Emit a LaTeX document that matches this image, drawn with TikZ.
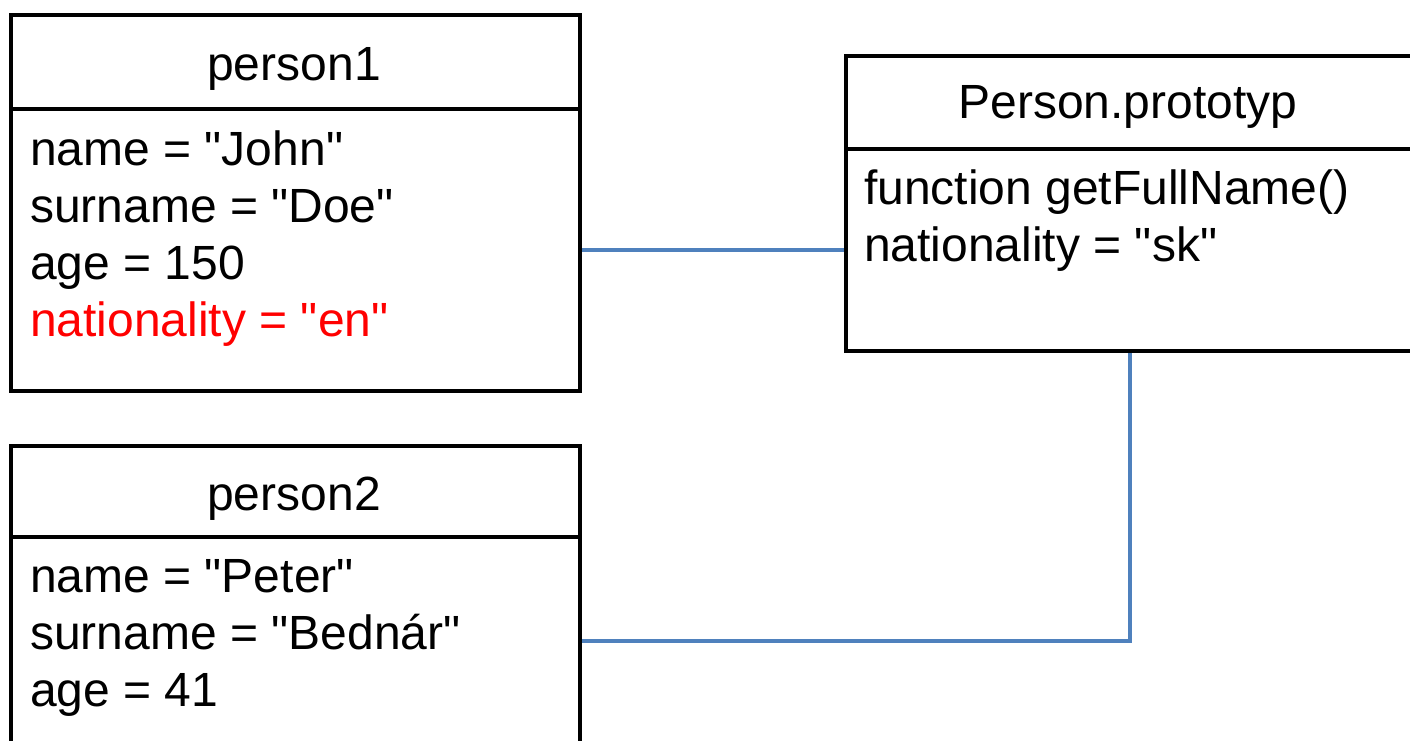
\documentclass[tikz,border=0pt]{standalone}
\usepackage{fontspec}
\setmainfont{Liberation Sans}
\definecolor{linkblue}{HTML}{4F81BD}
\definecolor{attrred}{HTML}{FF0000}
% straight double quote
\newcommand{\dq}{\textquotedbl}
\begin{document}
\begin{tikzpicture}[x=1pt,y=-1pt,
  boxpart/.style={draw=black,line width=4pt,rectangle,inner sep=0pt,anchor=north west},
  title/.style={anchor=base,inner sep=0pt,font=\fontsize{48}{57}\selectfont},
  attr/.style={anchor=base west,inner sep=0pt,font=\fontsize{48}{57}\selectfont},
  link/.style={draw=linkblue,line width=4pt}]
\useasboundingbox (0,0) rectangle (1410,740);

% person1
\node[boxpart,minimum width=569pt,minimum height=94pt] (p1head) at (9,13) {};
\node[boxpart,minimum width=569pt,minimum height=282pt] (p1body) at (9,107) {};
\node[title] (p1t) at (294,80) {person1};
\node[attr] (p1a) at (30,165) {name = \dq John\dq};
\node[attr] (p1b) at (30,222) {surname = \dq Doe\dq};
\node[attr] (p1c) at (30,279) {age = 150};
\node[attr,text=attrred] (p1d) at (30,336) {nationality = \dq en\dq};

% person2
\node[boxpart,minimum width=569pt,minimum height=91pt] (p2head) at (9,444) {};
\node[boxpart,minimum width=569pt,minimum height=208pt] (p2body) at (9,535) {};
\node[title] (p2t) at (294,510) {person2};
\node[attr] (p2a) at (30,592) {name = \dq Peter\dq};
\node[attr] (p2b) at (30,649) {surname = \dq Bednár\dq};
\node[attr] (p2c) at (30,706) {age = 41};

% Person.prototyp
\node[boxpart,minimum width=568pt,minimum height=93pt] (prhead) at (844,54) {};
\node[boxpart,minimum width=568pt,minimum height=202pt] (prbody) at (844,147) {};
\node[title] (prt) at (1128,118) {Person.prototyp};
\node[attr] (pra) at (864,204) {function getFullName()};
\node[attr] (prb) at (864,261) {nationality = \dq sk\dq};

% prototype links
\draw[link] (p1body.east) -- (prbody.west);
\draw[link] (p2body.east) -| (prbody.south);
\end{tikzpicture}
\end{document}
